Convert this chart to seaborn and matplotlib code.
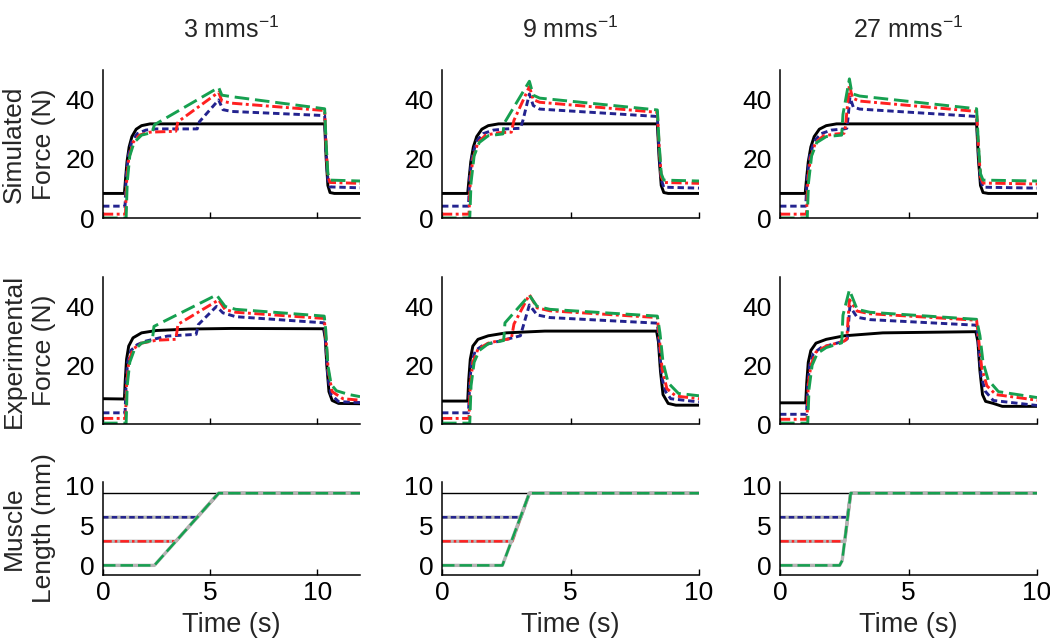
import matplotlib
matplotlib.use("Agg")
import matplotlib.pyplot as plt
import seaborn as sns

sns.set_theme(style="ticks")
plt.rcParams['font.family'] = ['Liberation Sans', 'DejaVu Sans']
plt.rcParams['mathtext.fontset'] = 'custom'
plt.rcParams['mathtext.rm'] = 'Liberation Sans'
plt.rcParams['mathtext.default'] = 'regular'

speeds = ["3", "9", "27"]
x_max = [12, 10, 10]
row_labels = ["Simulated\nForce (N)", "Experimental\nForce (N)", "Muscle\nLength (mm)"]

# (time s, value) points
# --- simulated force, 3 mm/s
sim3_k = [(0, 8.3), (1.0, 8.3), (1.05, 13), (1.12, 19), (1.22, 24), (1.35, 27.5), (1.55, 30), (1.8, 31.2),
          (2.2, 31.8), (10.35, 31.8), (10.42, 20), (10.5, 11), (10.6, 8.6), (10.8, 8.3), (12, 8.3)]
sim3_b = [(0, 4.0), (1.03, 4.0), (1.08, 14), (1.18, 21), (1.35, 26), (1.6, 28.5), (2.0, 29.7), (2.5, 30.1),
          (4.4, 30.1), (4.5, 32.5), (5.4, 39.9), (5.6, 36.6), (6.0, 36.0), (10.35, 34.6), (10.42, 22),
          (10.5, 13), (10.6, 10.5), (12, 10.2)]
sim3_r = [(0, 1.3), (1.05, 1.3), (1.1, 12), (1.2, 20), (1.4, 25.5), (1.7, 28), (2.2, 29), (3.4, 29.3),
          (3.5, 32.5), (5.4, 42.5), (5.55, 39.5), (6.0, 38.8), (10.35, 36.3), (10.42, 24), (10.5, 14),
          (10.6, 12), (12, 11.7)]
sim3_g = [(0, 0), (1.08, 0), (1.13, 12), (1.25, 21), (1.45, 25.5), (1.8, 28), (2.3, 28.9), (2.4, 31.5),
          (5.4, 44.1), (5.55, 41.5), (6.0, 41), (10.35, 36.9), (10.42, 25), (10.5, 15), (10.6, 12.8), (12, 12.5)]
# --- simulated force, 9 mm/s
sim9_k = [(0, 8.3), (1.0, 8.3), (1.05, 13), (1.12, 19), (1.22, 24), (1.35, 27.5), (1.55, 30), (1.8, 31.2),
          (2.2, 31.8), (8.38, 31.8), (8.45, 20), (8.53, 11), (8.63, 8.6), (8.8, 8.3), (10, 8.3)]
sim9_b = [(0, 4.0), (1.03, 4.0), (1.08, 14), (1.18, 21), (1.35, 26), (1.6, 28.5), (2.0, 29.7), (2.5, 30.1),
          (3.05, 30.3), (3.15, 33), (3.4, 41.9), (3.55, 38), (3.8, 36.8), (8.38, 34.3), (8.45, 22),
          (8.53, 13), (8.63, 10.4), (10, 10.1)]
sim9_r = [(0, 1.3), (1.05, 1.3), (1.1, 12), (1.2, 20), (1.4, 25.5), (1.7, 28), (2.2, 28.8), (2.7, 29.0),
          (2.8, 33), (3.4, 44.4), (3.55, 40), (3.8, 39.1), (8.38, 35.7), (8.45, 24), (8.53, 14),
          (8.63, 12), (10, 11.7)]
sim9_g = [(0, 0), (1.08, 0), (1.13, 12), (1.25, 21), (1.45, 25.5), (1.8, 27.8), (2.37, 28.4), (2.42, 32),
          (3.4, 46.2), (3.55, 41.5), (3.8, 40.5), (8.38, 36.5), (8.45, 25), (8.53, 15), (8.63, 12.8), (10, 12.5)]
# --- simulated force, 27 mm/s
sim27_k = [(0, 8.3), (0.98, 8.3), (1.03, 13), (1.1, 19), (1.2, 24), (1.33, 27.5), (1.53, 30), (1.8, 31.2),
           (2.2, 31.8), (7.65, 31.8), (7.72, 20), (7.8, 11), (7.9, 8.6), (8.1, 8.3), (10, 8.3)]
sim27_b = [(0, 4.0), (1.0, 4.0), (1.06, 14), (1.16, 21), (1.33, 26), (1.6, 28.5), (2.0, 29.7), (2.5, 30.1),
           (2.6, 30.3), (2.65, 34), (2.72, 40.8), (2.85, 37.5), (3.1, 36.8), (7.65, 34.3), (7.72, 22),
           (7.8, 13), (7.9, 10.4), (10, 10.1)]
sim27_r = [(0, 1.3), (1.03, 1.3), (1.08, 12), (1.18, 20), (1.38, 25.5), (1.7, 27.8), (2.2, 28.4),
           (2.49, 28.6), (2.55, 31), (2.7, 45), (2.82, 40.5), (3.1, 39.5), (7.65, 36.0), (7.72, 24),
           (7.8, 14), (7.9, 11.8), (10, 11.5)]
sim27_g = [(0, 0), (1.06, 0), (1.11, 12), (1.23, 21), (1.43, 25.5), (1.8, 27.5), (2.4, 28.0), (2.45, 35),
           (2.7, 47), (2.8, 42), (3.1, 41.2), (7.65, 36.9), (7.72, 25), (7.8, 15), (7.9, 12.8), (10, 12.5)]

# --- experimental force, 3 mm/s
exp3_k = [(0, 8.6), (1.0, 8.5), (1.04, 15), (1.1, 22), (1.2, 26.5), (1.4, 29.3), (1.8, 31), (2.5, 31.8),
          (4.0, 32.3), (6, 32.5), (10.3, 32.4), (10.38, 29), (10.45, 20), (10.55, 11), (10.7, 8),
          (11, 7), (12, 6.9)]
exp3_b = [(0, 3.8), (1.03, 3.8), (1.08, 14), (1.15, 21), (1.3, 25), (1.6, 27), (2.0, 28.2), (3.0, 29.9),
          (4.35, 30.5), (4.45, 33.8), (5.3, 40), (5.6, 37.8), (6.2, 36.5), (10.33, 34.4), (10.4, 27),
          (10.5, 16), (10.65, 10), (11, 7.6), (12, 7.3)]
exp3_r = [(0, 1.9), (1.05, 1.9), (1.1, 13), (1.2, 21), (1.4, 25.5), (1.8, 27.5), (2.5, 28.5), (3.4, 28.8),
          (3.5, 33.9), (5.4, 42.2), (5.7, 38.9), (6.2, 38), (10.33, 35.9), (10.42, 28), (10.52, 18),
          (10.7, 11), (11.2, 8.6), (12, 8.1)]
exp3_g = [(0, 0.3), (1.08, 0.3), (1.13, 13), (1.25, 21), (1.45, 25), (1.8, 27.5), (2.3, 28.4), (2.38, 33.2),
          (5.3, 43.9), (5.7, 40), (6.2, 39), (10.33, 36.7), (10.4, 32), (10.5, 20), (10.65, 13.5),
          (10.9, 11.3), (11.5, 10), (12, 9.3)]
# --- experimental force, 9 mm/s
exp9_k = [(0, 7.8), (1.0, 7.8), (1.04, 15), (1.1, 22), (1.2, 26.5), (1.4, 28.8), (1.8, 30.0), (2.5, 31.0),
          (4.0, 31.6), (8.35, 31.6), (8.42, 28), (8.5, 18), (8.6, 10), (8.8, 7), (9.1, 6.4), (10, 6.4)]
exp9_b = [(0, 3.8), (1.03, 3.8), (1.08, 14), (1.15, 21), (1.3, 25), (1.6, 26.8), (2.0, 27.7), (2.6, 29.0),
          (3.05, 30), (3.15, 33), (3.4, 40.5), (3.7, 37.1), (4.2, 36.2), (8.38, 34.3), (8.45, 27),
          (8.55, 16), (8.7, 11), (8.9, 8.6), (10, 7.5)]
exp9_r = [(0, 1.9), (1.05, 1.9), (1.1, 13), (1.2, 21), (1.4, 25.5), (1.8, 27.5), (2.2, 28.3), (2.7, 29.1),
          (2.8, 34), (3.4, 44.0), (3.7, 39.5), (4.2, 38.5), (8.38, 36.2), (8.46, 29), (8.56, 19),
          (8.75, 12), (9.1, 9.5), (10, 8.6)]
exp9_g = [(0, 0.3), (1.08, 0.3), (1.13, 13), (1.25, 21), (1.45, 25), (1.8, 27.3), (2.4, 28.4), (2.45, 34.4),
          (3.4, 43.8), (3.7, 40), (4.2, 39), (8.38, 36.7), (8.48, 31), (8.6, 21), (8.8, 14),
          (9.2, 10.4), (10, 9.6)]
# --- experimental force, 27 mm/s
exp27_k = [(0, 7.2), (1.0, 7.2), (1.04, 14), (1.1, 21), (1.2, 25), (1.4, 27.5), (1.8, 28.8), (2.5, 30),
           (4.0, 31.0), (7.62, 31.4), (7.7, 28), (7.78, 18), (7.88, 10), (8.0, 7.7), (8.3, 7.0),
           (8.65, 6.0), (10, 6.0)]
exp27_b = [(0, 3.3), (1.03, 3.3), (1.08, 13), (1.15, 20), (1.3, 24), (1.6, 26), (2.0, 27), (2.5, 28.2),
           (2.62, 29), (2.72, 40), (3.0, 36.3), (3.5, 35.5), (7.65, 33.6), (7.73, 26), (7.83, 16),
           (8.0, 11), (8.3, 8), (10, 6.3)]
exp27_r = [(0, 1.6), (1.05, 1.6), (1.1, 13), (1.2, 20), (1.4, 24.5), (1.8, 26.5), (2.5, 28.2), (2.6, 29),
           (2.7, 42.3), (3.0, 38.4), (3.5, 37.5), (7.65, 35.3), (7.75, 27), (7.85, 19), (8.05, 13),
           (8.4, 10), (10, 8.1)]
exp27_g = [(0, 0.3), (1.08, 0.3), (1.13, 12), (1.25, 20), (1.45, 24), (1.8, 26), (2.4, 27.6), (2.45, 37),
           (2.7, 45.6), (3.0, 39), (3.5, 38), (7.65, 35.6), (7.78, 30), (7.9, 21), (8.1, 15),
           (8.5, 11), (10, 9)]

# --- muscle length (mm)
len3_k = [(0, 9), (12, 9)]
len3_b = [(0, 6), (4.4, 6), (5.4, 9), (12, 9)]
len3_r = [(0, 3), (3.4, 3), (5.4, 9), (12, 9)]
len3_g = [(0, 0), (2.4, 0), (5.4, 9), (12, 9)]
len9_k = [(0, 9), (10, 9)]
len9_b = [(0, 6), (3.07, 6), (3.4, 9), (10, 9)]
len9_r = [(0, 3), (2.73, 3), (3.4, 9), (10, 9)]
len9_g = [(0, 0), (2.35, 0), (3.4, 9), (10, 9)]
len27_k = [(0, 9), (10, 9)]
len27_b = [(0, 6), (2.62, 6), (2.75, 9), (10, 9)]
len27_r = [(0, 3), (2.52, 3), (2.75, 9), (10, 9)]
len27_g = [(0, 0), (2.32, 0), (2.42, 0.6), (2.75, 9), (10, 9)]

panels = [
    [[sim3_k, sim3_b, sim3_r, sim3_g], [sim9_k, sim9_b, sim9_r, sim9_g], [sim27_k, sim27_b, sim27_r, sim27_g]],
    [[exp3_k, exp3_b, exp3_r, exp3_g], [exp9_k, exp9_b, exp9_r, exp9_g], [exp27_k, exp27_b, exp27_r, exp27_g]],
    [[len3_k, len3_b, len3_r, len3_g], [len9_k, len9_b, len9_r, len9_g], [len27_k, len27_b, len27_r, len27_g]],
]

styles = [
    dict(color="black", linestyle="-"),
    dict(color="#23238f", linestyle=(0, (2.2, 1.3))),
    dict(color="#ff2020", linestyle=(0, (3.5, 1.2, 1.0, 1.2))),
    dict(color="#16a050", linestyle=(0, (5, 2))),
]


def draw(ax, pts, lw, **kw):
    t = [p[0] for p in pts]
    v = [p[1] for p in pts]
    sns.lineplot(x=t, y=v, ax=ax, estimator=None, sort=False, legend=False, lw=lw, **kw)


fig = plt.figure(figsize=(10.5, 6.41), dpi=100)
lefts = [103, 442, 780]
rows_px = [(70, 218), (277, 424), (482, 575)]
W, H = 1050, 641
ax_w = 257

for r in range(3):
    top, bot = rows_px[r]
    for c in range(3):
        ax = fig.add_axes([lefts[c] / W, 1 - bot / H, ax_w / W, (bot - top) / H])
        curves = panels[r][c]
        for i, pts in enumerate(curves):
            if r == 2:
                if i == 0:
                    draw(ax, pts, 1.0, **styles[0])
                else:
                    draw(ax, pts, 2.4, color="#b4b4b4", linestyle="-")
                    draw(ax, pts, 1.8, **styles[i])
            else:
                draw(ax, pts, 2.1, **styles[i])
        ax.set_xlim(0, x_max[c])
        ax.set_xticks([0, 5, 10])
        if r < 2:
            ax.set_ylim(0, 50)
            ax.set_yticks([0, 20, 40])
            ax.set_xticklabels([])
        else:
            ax.set_ylim(-1.2, 10.4)
            ax.set_yticks([0, 5, 10])
            ax.set_xlabel("Time (s)", fontsize=19.5, labelpad=5)
        ax.set_ylabel("")
        sns.despine(ax=ax)
        for s in ["left", "bottom"]:
            ax.spines[s].set_linewidth(1.1)
            ax.spines[s].set_color("black")
        ax.tick_params(axis="x", direction="in", length=4, width=1, labelsize=19, pad=4, colors="black")
        ax.tick_params(axis="y", direction="in", length=0, labelsize=19, pad=6, colors="black")
        ax.patch.set_alpha(0)
        if r == 0:
            fig.text((lefts[c] + ax_w / 2) / W, 1 - 30 / H, speeds[c] + " mms$^{-1}$",
                     ha="center", va="center", fontsize=18)
    fig.text(29 / W, 1 - ((top + bot) / 2) / H, row_labels[r], rotation=90, ha="center", va="center",
             multialignment="center", fontsize=19, linespacing=1.3)

fig.savefig("out.png", dpi=100)
